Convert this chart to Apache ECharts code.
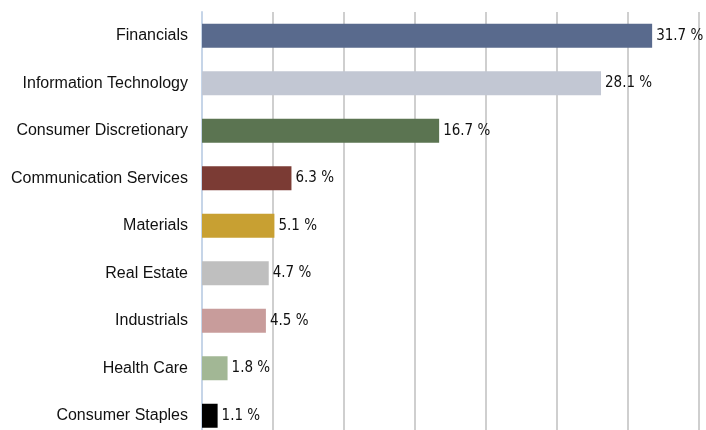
<!DOCTYPE html>
<html>
<head>
<meta charset="utf-8">
<script src="https://cdn.jsdelivr.net/npm/echarts@6/dist/echarts.min.js"></script>
<style>
  html, body { margin: 0; padding: 0; background: #fff; overflow: hidden; }
  #chart { width: 706px; height: 440px; }
</style>
</head>
<body>
<div id="chart"></div>
<script>
const sectors = [
  "Financials",
  "Information Technology",
  "Consumer Discretionary",
  "Communication Services",
  "Materials",
  "Real Estate",
  "Industrials",
  "Health Care",
  "Consumer Staples",
];
const weights = [31.7, 28.1, 16.7, 6.3, 5.1, 4.7, 4.5, 1.8, 1.1];
const barColors = [
  "#596a8d", "#c2c7d3", "#5b7451", "#7b3b34", "#c8a032",
  "#bfbfbf", "#c89c9b", "#a2b795", "#000000",
];

// the bottom row is cut off by the 430px window, so the chart is a bit taller
const chart = echarts.init(document.getElementById("chart"));

const option = {
  animation: false,
  grid: {
    left: 202,
    right: 7,
    top: 12,
    bottom: 0.5,
    containLabel: false,
  },
  xAxis: {
    type: "value",
    min: 0,
    max: 35,
    interval: 5,
    axisLabel: { show: false },
    axisLine: { show: false },
    axisTick: { show: false },
    splitLine: { lineStyle: { color: "#cfcfcf", width: 2 } },
  },
  yAxis: {
    type: "category",
    inverse: true,
    data: sectors,
    axisLine: { lineStyle: { color: "#c6d5e8", width: 2 } },
    axisTick: { length: 8, lineStyle: { color: "#c6d5e8", width: 2 } },
    axisLabel: {
      margin: 14,
      color: "#111",
      fontFamily: "Liberation Sans",
      fontSize: 16,
    },
  },
  series: [
    {
      type: "bar",
      barWidth: 24,
      data: weights.map((v, i) => ({
        value: v,
        itemStyle: { color: barColors[i] },
      })),
      label: {
        show: true,
        position: "right",
        distance: 4,
        color: "#111",
        fontFamily: "DejaVu Sans Condensed",
        fontSize: 15,
        formatter: (p) => p.value.toFixed(1) + " %",
      },
    },
  ],
};

chart.setOption(option);
</script>
</body>
</html>
